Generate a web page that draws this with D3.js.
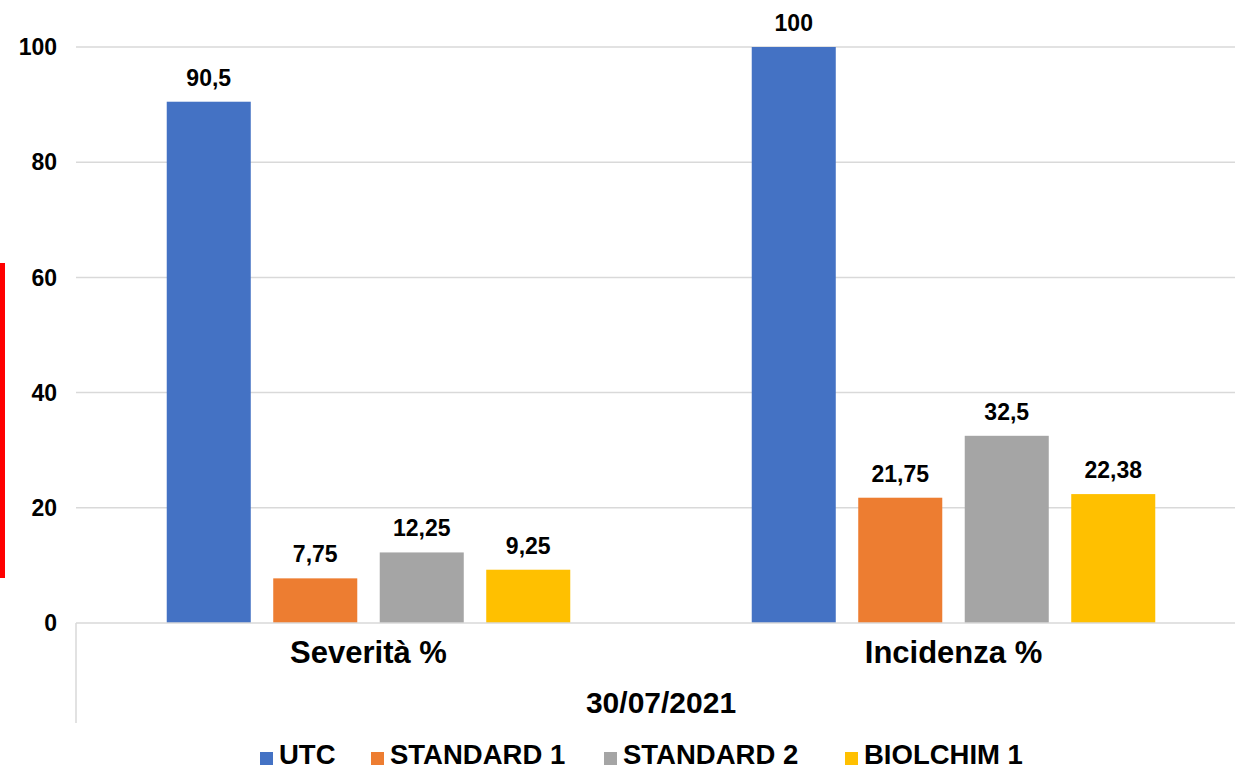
<!DOCTYPE html>
<html><head><meta charset="utf-8">
<script src="https://cdn.jsdelivr.net/npm/d3@7"></script>
<style>html,body{margin:0;padding:0;background:#fff;overflow:hidden}svg{display:block}text{font-family:"Liberation Sans",Arial,Helvetica,sans-serif;font-weight:bold;fill:#000}</style>
</head><body>
<svg id="c" width="1235" height="769"></svg>
<script>
const categories = ["Severità %", "Incidenza %"];
const seriesNames = ["UTC", "STANDARD 1", "STANDARD 2", "BIOLCHIM 1"];
const seriesColors = ["#4472C4", "#ED7D31", "#A5A5A5", "#FFC000"];
const utcValues = [90.5, 100];
const standard1Values = [7.75, 21.75];
const standard2Values = [12.25, 32.5];
const biolchim1Values = [9.25, 22.38];
const valueLabels = [["90,5", "100"], ["7,75", "21,75"], ["12,25", "32,5"], ["9,25", "22,38"]];
const yTicks = [0, 20, 40, 60, 80, 100];
const groupLabel = "30/07/2021";

const seriesValues = [utcValues, standard1Values, standard2Values, biolchim1Values];

const svg = d3.select("#c");
const pLeft = 76, pRight = 1246, pTop = 47, pBottom = 623;

const y = d3.scaleLinear().domain([0, 100]).range([pBottom, pTop]);
const x0 = d3.scaleBand().domain(categories).range([pLeft, pRight]).padding(0);
const x1 = d3.scaleBand().domain(seriesNames).range([0, x0.bandwidth()]).paddingInner(0.211).paddingOuter(0.852);

// red marker line on the left
svg.append("rect").attr("x", 0).attr("y", 263).attr("width", 5).attr("height", 315).attr("fill", "#FF0000");

// gridlines
svg.append("g").selectAll("line").data(yTicks.filter(d => d > 0)).join("line")
  .attr("x1", pLeft).attr("x2", 1235)
  .attr("y1", d => y(d)).attr("y2", d => y(d))
  .attr("stroke", "#D9D9D9").attr("stroke-width", 1.5);

// y tick labels
svg.append("g").selectAll("text").data(yTicks).join("text")
  .attr("x", 57).attr("y", d => y(d)).attr("dy", "0.36em")
  .attr("text-anchor", "end").attr("font-size", 23)
  .text(d => d);

// bars
seriesNames.forEach((s, i) => {
  const g = svg.append("g");
  g.selectAll("rect").data(categories).join("rect")
    .attr("x", c => x0(c) + x1(s))
    .attr("y", (c, j) => y(seriesValues[i][j]))
    .attr("width", x1.bandwidth())
    .attr("height", (c, j) => y(0) - y(seriesValues[i][j]))
    .attr("fill", seriesColors[i]);
  g.selectAll("text").data(categories).join("text")
    .attr("x", c => x0(c) + x1(s) + x1.bandwidth() / 2)
    .attr("y", (c, j) => y(seriesValues[i][j]) - 16)
    .attr("text-anchor", "middle").attr("font-size", 23)
    .text((c, j) => valueLabels[i][j]);
});

// baseline axis
svg.append("line").attr("x1", pLeft).attr("x2", 1235).attr("y1", y(0)).attr("y2", y(0))
  .attr("stroke", "#D9D9D9").attr("stroke-width", 1.5);
svg.append("line").attr("x1", pLeft).attr("x2", pLeft).attr("y1", y(0)).attr("y2", 723)
  .attr("stroke", "#D9D9D9").attr("stroke-width", 1.5);

// category labels
svg.append("g").selectAll("text").data(categories).join("text")
  .attr("x", c => x0(c) + x0.bandwidth() / 2).attr("y", 663)
  .attr("text-anchor", "middle").attr("font-size", 31)
  .text(c => c);
svg.append("text").attr("x", (pLeft + pRight) / 2).attr("y", 713)
  .attr("text-anchor", "middle").attr("font-size", 30).text(groupLabel);

// legend
const legendX = [260, 371, 604, 845];
const lg = svg.append("g");
seriesNames.forEach((s, i) => {
  lg.append("rect").attr("x", legendX[i]).attr("y", 752).attr("width", 13).attr("height", 13).attr("fill", seriesColors[i]);
  lg.append("text").attr("x", legendX[i] + 19).attr("y", 764).attr("font-size", 27.5).text(s);
});
</script>
</body></html>
